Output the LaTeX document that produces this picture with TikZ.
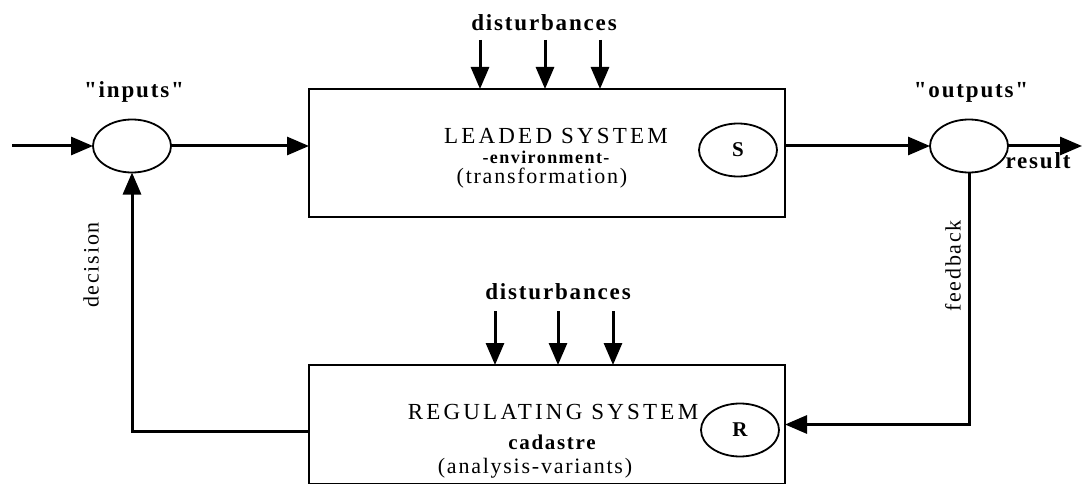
\documentclass[tikz,border=0pt]{standalone}
\usepackage{fontspec}
\setmainfont{Liberation Serif}
\newfontfamily\labelfont[LetterSpace=8]{Liberation Serif}
\newfontfamily\capsfont[LetterSpace=14]{Liberation Serif}
\usetikzlibrary{arrows.meta}
\usetikzlibrary{shapes.geometric}
\usetikzlibrary{positioning}
\tikzset{
  myarrow/.style={
    draw=black,
    line width=3pt,
    -{Triangle[length=22pt,width=18pt]},
  },
  myellipse/.style={
    draw=black,
    shape=ellipse,
    line width=1.8pt,
    minimum width=78pt,
    minimum height=53pt,
    inner sep=0pt,
    outer sep=0pt,
    font=\bfseries\fontsize{21}{21}\selectfont,
  },
  myrectangle/.style={
    draw=black,
    shape=rectangle,
    line width=2.6pt,
    minimum width=476pt,
    inner sep=0pt,
    outer sep=0pt,
  },
  mylabel/.style={
    inner sep=0pt,
    font=\labelfont\fontsize{22}{22}\selectfont,
  },
  mybold/.style={
    inner sep=0pt,
    font=\labelfont\bfseries\fontsize{23}{23}\selectfont,
  },
  mysmallbold/.style={
    inner sep=0pt,
    font=\labelfont\bfseries\fontsize{18}{18}\selectfont,
  },
  mytitle/.style={
    inner sep=0pt,
    font=\capsfont\fontsize{23}{23}\selectfont,
  },
}

\begin{document}
\begin{tikzpicture}[x=1pt, y=-1pt]
    \useasboundingbox (0,0) rectangle (1082,484);

    % the two systems
    \node[myrectangle, minimum height=128pt] (lead) at (547,153) {};
    \node[myrectangle, minimum height=119pt] (reg) at (547,424.5) {};

    \node[mytitle] (leadtitle) at (556,136) {LEADED SYSTEM};
    \node[mysmallbold] (leadsub) at (546,157) {-environment-};
    \node[mylabel] (leadnote) at (542,178) {(transformation)};

    \node[mytitle] (regtitle) at (553,412) {REGULATING SYSTEM};
    \node[mybold, font=\labelfont\bfseries\fontsize{21}{21}\selectfont] (regsub) at (552,442) {cadastre};
    \node[mylabel] (regnote) at (535,468) {(analysis-variants)};

    \node[myellipse] (S) at (738,150) {S};
    \node[myellipse] (R) at (740,430) {R};

    % inputs and outputs
    \node[myellipse] (in) at (132,146) {};
    \node[myellipse] (out) at (969,146) {};
    \node[mybold] (inlabel) at (134,92) {"inputs"};
    \node[mybold] (outlabel) at (971,92) {"outputs"};
    \node[mybold] (reslabel) at (1038,161) {result};

    \coordinate (src) at (12,146);
    \coordinate (res) at (1082,146);
    \draw[myarrow] (src) -- (in.west);
    \draw[myarrow] (in.east) -- (in.east -| lead.west);
    \draw[myarrow] (out.west -| lead.east) -- (out.west);
    \draw[myarrow] (out.east) -- (res);

    % feedback loop
    \draw[myarrow] (out.south) |- (reg.east);
    \draw[myarrow] (reg.west) ++(0,7) -| (in.south);
    \node[mylabel, rotate=90] (feedlabel) at (953,266) {feedback};
    \node[mylabel, rotate=90] (declabel) at (91,265) {decision};

    % disturbances
    \node[mybold] (distA) at (544,23) {disturbances};
    \node[mybold] (distB) at (558,292) {disturbances};
    \coordinate (d1) at (480,40);
    \coordinate (d2) at (545,40);
    \coordinate (d3) at (600,40);
    \coordinate (e1) at (495,311);
    \coordinate (e2) at (558,311);
    \coordinate (e3) at (613,311);
    \draw[myarrow] (d1) -- (d1 |- lead.north);
    \draw[myarrow] (d2) -- (d2 |- lead.north);
    \draw[myarrow] (d3) -- (d3 |- lead.north);
    \draw[myarrow] (e1) -- (e1 |- reg.north);
    \draw[myarrow] (e2) -- (e2 |- reg.north);
    \draw[myarrow] (e3) -- (e3 |- reg.north);
\end{tikzpicture}
\end{document}
